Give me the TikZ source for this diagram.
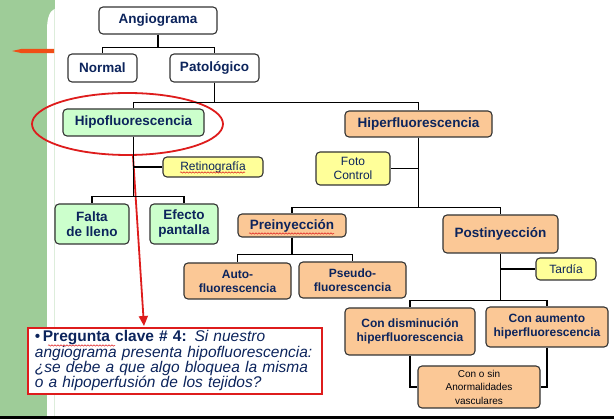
\documentclass[tikz,border=0pt]{standalone}
\usepackage{fontspec}
\setmainfont{Liberation Sans}
\usetikzlibrary{arrows.meta,decorations.pathmorphing}
\definecolor{navy}{RGB}{12,36,92}
\definecolor{boxgreen}{RGB}{204,255,204}
\definecolor{boxpeach}{RGB}{251,200,150}
\definecolor{boxyellow}{RGB}{255,255,153}
\definecolor{bandgreen}{RGB}{158,204,152}
\definecolor{markred}{RGB}{222,28,28}
\definecolor{dashorange}{RGB}{240,78,22}
\begin{document}
\begin{tikzpicture}[x=1pt,y=-1pt,
  box/.style={draw=black!80, line width=1.1pt, rounded corners=4pt, align=center, inner sep=0pt, text=navy},
  bigb/.style={box, font=\fontsize{13.5}{15}\selectfont\bfseries},
  midb/.style={box, font=\fontsize{12}{14}\selectfont\bfseries},
  noteb/.style={box, font=\fontsize{12}{14}\selectfont},
  whitebox/.style={fill=white},
  greenbox/.style={fill=boxgreen},
  peachbox/.style={fill=boxpeach},
  yellowbox/.style={fill=boxyellow},
  link/.style={draw=black, line width=1.8pt},
  squiggle/.style={draw=markred, line width=0.5pt, decorate, decoration={snake, segment length=3pt, amplitude=0.7pt}}
]
\useasboundingbox (0,0) rectangle (614,419);
\fill[white] (0,0) rectangle (614,419);
% side band
\fill[bandgreen] (0,0) rectangle (54.5,416);
\fill[white] (47,416) -- (47,30) .. controls (47,17) and (50,11) .. (54.5,9) -- (54.5,416) -- cycle;
\fill[dashorange] (12,51) -- (22,48.8) -- (54,48.8) -- (54,53.2) -- (22,53.2) -- cycle;
\draw[line width=3pt] (0,417.5) -- (614,417.5);

% nodes
\node[bigb, whitebox, minimum width=118pt, minimum height=27pt] (ang) at (158,20.5) {Angiograma};
\node[bigb, whitebox, minimum width=69pt, minimum height=28pt] (norm) at (102.5,68) {Normal};
\node[bigb, whitebox, minimum width=89pt, minimum height=28pt] (pat) at (214.5,68) {Patológico};
\node[bigb, greenbox, minimum width=141pt, minimum height=27pt] (hipo) at (133.5,122.5) {Hipofluorescencia};
\node[bigb, peachbox, minimum width=147pt, minimum height=26pt] (hiper) at (418.5,124) {Hiperfluorescencia};
\node[noteb, yellowbox, minimum width=100pt, minimum height=20pt] (ret) at (213,167) {Retinografía};
\node[noteb, yellowbox, minimum width=74pt, minimum height=33pt] (foto) at (353,168.5) {Foto\\Control};
\node[bigb, greenbox, minimum width=74pt, minimum height=40pt] (falta) at (92,224) {Falta\\de lleno};
\node[bigb, greenbox, minimum width=68pt, minimum height=40pt] (efecto) at (184,224) {Efecto\\pantalla};
\node[bigb, peachbox, minimum width=108pt, minimum height=23pt] (pre) at (292,225.5) {Preinyección};
\node[bigb, peachbox, minimum width=115pt, minimum height=38pt] (post) at (500.5,234) {Postinyección};
\node[noteb, yellowbox, minimum width=60pt, minimum height=22pt] (tard) at (566,269) {Tardía};
\node[midb, peachbox, minimum width=107pt, minimum height=36pt] (auto) at (237.5,281) {Auto-\\fluorescencia};
\node[midb, peachbox, minimum width=107pt, minimum height=36pt] (pseudo) at (352.5,280) {Pseudo-\\fluorescencia};
\node[midb, peachbox, minimum width=130pt, minimum height=47pt] (cdis) at (410,331.5) {Con disminución\\hiperfluorescencia};
\node[midb, peachbox, minimum width=122pt, minimum height=40pt] (caum) at (547,327) {Con aumento\\hiperfluorescencia};
\node[box, peachbox, font=\fontsize{10}{13.5}\selectfont, text=black!85!navy, minimum width=122pt, minimum height=42pt] (cosin) at (479,387) {Con o sin\\Anormalidades\\vasculares};

% question box
\node[draw=markred, line width=1.8pt, fill=white, anchor=north west, minimum width=294pt, minimum height=66pt,
      inner xsep=7pt, inner ysep=2pt, text width=280pt, align=left, text=navy,
      font=\fontsize{15.5}{15.3}\selectfont] (preg) at (27,327)
  {•\,\textbf{Pregunta clave \# 4:} \textit{Si nuestro}\\
   \textit{angiograma presenta hipofluorescencia:}\\
   \textit{¿se debe a que algo bloquea la misma}\\
   \textit{o a hipoperfusión de los tejidos?}};

% red highlight and arrow
\draw[markred, line width=1.8pt] (127.5,124) ellipse [x radius=95.5pt, y radius=31pt];
\coordinate (arrS) at (133,156);
\coordinate (arrE) at (144,326);
\draw[markred, line width=1.8pt, -{Triangle[length=10pt,width=9pt]}] (arrS) -- (arrE);

% connectors
\draw[link] (ang.south) -- ++(0,13) -| (norm.north);
\draw[link] (ang.south) -- ++(0,13) -| (pat.north);
\draw[link] (pat.south) -- ++(0,20) -| (hipo.north);
\draw[link] (pat.south) -- ++(0,20) -| (hiper.north);
\draw[link] (hipo.south) -- ++(0,60) -| (falta.north);
\draw[link] (hipo.south) -- ++(0,60) -| (efecto.north);
\draw[link] (hipo.south |- ret.west) -- (ret.west);
\draw[link] (hiper.south) -- ++(0,70) -| (pre.north);
\draw[link] (hiper.south) -- ++(0,70) -| (post.north);
\draw[link] (hiper.south |- foto.east) -- (foto.east);
\draw[link] (pre.south) -- ++(0,17) -| (auto.north);
\draw[link] (pre.south) -- ++(0,17) -| (pseudo.north);
\draw[link] (post.south) -- ++(0,47) -| (cdis.north);
\draw[link] (post.south) -- ++(0,47) -| (caum.north);
\draw[link] (post.south |- tard.west) -- (tard.west);
\draw[link] (cdis.south) |- (cosin.west);
\draw[link] (caum.south) |- (cosin.east);

% spell-check squiggles
\draw[squiggle] (180,172.5) -- (245,172.5);
\draw[squiggle] (249,233.5) -- (334,233.5);
\draw[squiggle] (48,345.5) -- (115,345.5);
\end{tikzpicture}
\end{document}
